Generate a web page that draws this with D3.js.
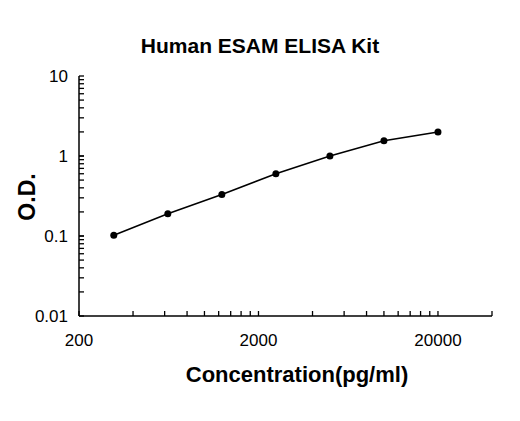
<!DOCTYPE html>
<html><head><meta charset="utf-8">
<script src="https://d3js.org/d3.v7.min.js"></script>
<style>body{margin:0;background:#fff}</style>
</head><body><svg id="chart" width="520" height="421"></svg>
<script>
"use strict"

const concentration = [312.5, 625, 1250, 2500, 5000, 10000, 20000]
const od = [0.102, 0.19, 0.33, 0.6, 1.0, 1.55, 2.0]
const xTicks = [200, 2000, 20000]
const yTicks = [0.01, 0.1, 1, 10]

const svg = d3.select("#chart")
const font = "'Liberation Sans', Arial, sans-serif"

const x = d3.scaleLog().domain([200, 40000]).range([79, 492])
const y = d3.scaleLog().domain([0.01, 10]).range([316, 76])

// minor ticks
const xMinor = []
for (let d = 200; d <= 40000; d *= 10)
  for (let k = 1; k <= 9; k++) if (d * k <= 40000) xMinor.push(d * k)
const yMinor = []
for (let d = 0.01; d < 10; d *= 10)
  for (let k = 1; k <= 10; k++) yMinor.push(d * k)

svg.append("g").selectAll("line").data(xMinor).enter().append("line")
  .attr("x1", d => x(d)).attr("x2", d => x(d))
  .attr("y1", y(0.01)).attr("y2", y(0.01) - 5)
  .attr("stroke", "#000").attr("stroke-width", 1.3)
svg.append("g").selectAll("line").data(yMinor).enter().append("line")
  .attr("y1", d => y(d)).attr("y2", d => y(d))
  .attr("x1", x(200)).attr("x2", x(200) + 5)
  .attr("stroke", "#000").attr("stroke-width", 1.3)

svg.append("line").attr("x1", x(200)).attr("x2", x(40000))
  .attr("y1", y(0.01)).attr("y2", y(0.01)).attr("stroke", "#000").attr("stroke-width", 1.5)
svg.append("line").attr("x1", x(200)).attr("x2", x(200))
  .attr("y1", y(0.01)).attr("y2", y(10)).attr("stroke", "#000").attr("stroke-width", 1.5)

svg.append("g").selectAll("text").data(xTicks).enter().append("text")
  .attr("x", d => x(d)).attr("y", 346).attr("text-anchor", "middle")
  .attr("font-family", font).attr("font-size", 17).text(d => d)
svg.append("g").selectAll("text").data(yTicks).enter().append("text")
  .attr("x", 68).attr("y", d => y(d) + 6).attr("text-anchor", "end")
  .attr("font-family", font).attr("font-size", 17).text(d => d)

const line = d3.line().x((d, i) => x(concentration[i])).y(d => y(d))
svg.append("path").datum(od).attr("d", line)
  .attr("fill", "none").attr("stroke", "#000").attr("stroke-width", 1.5)
svg.append("g").selectAll("circle").data(od).enter().append("circle")
  .attr("cx", (d, i) => x(concentration[i])).attr("cy", d => y(d))
  .attr("r", 3.5).attr("fill", "#000")

svg.append("text").attr("x", 260).attr("y", 53).attr("text-anchor", "middle")
  .attr("font-family", font).attr("font-size", 21).attr("font-weight", "bold")
  .text("Human ESAM ELISA Kit")
svg.append("text").attr("x", 297).attr("y", 382).attr("text-anchor", "middle")
  .attr("font-family", font).attr("font-size", 22).attr("font-weight", "bold")
  .text("Concentration(pg/ml)")
svg.append("text").attr("transform", "translate(35,197) rotate(-90)")
  .attr("text-anchor", "middle")
  .attr("font-family", font).attr("font-size", 23).attr("font-weight", "bold")
  .text("O.D.")
</script></body></html>
